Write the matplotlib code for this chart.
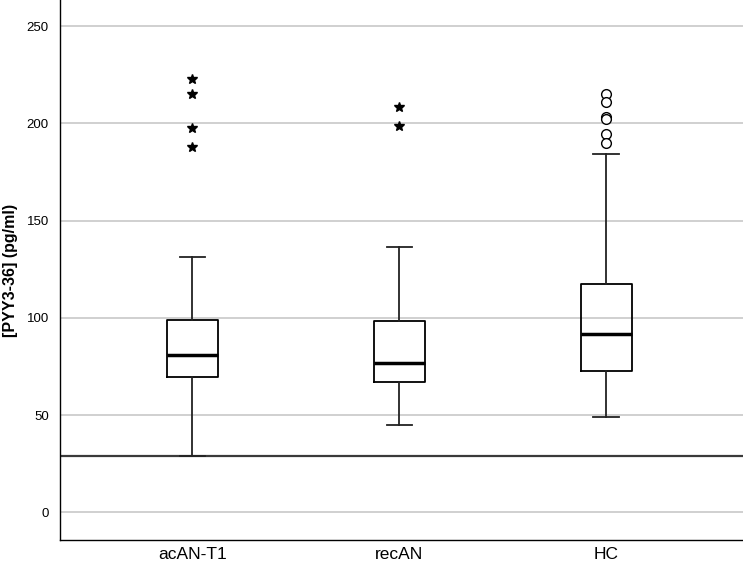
import matplotlib
matplotlib.use("Agg")
import matplotlib.pyplot as plt

# Groups and box statistics (pg/ml)
groups = ["acAN-T1", "recAN", "HC"]
whisker_low = [29, 44.7, 48.8]
q1 = [69.6, 66.8, 72.8]
median = [80.9, 76.9, 91.7]
q3 = [98.7, 98.2, 117.5]
whisker_high = [131.1, 136.7, 184.2]

# extreme values (stars) and outliers (open circles)
extremes = [[222.8, 215.1, 197.6, 187.8], [208.7, 198.8], []]
outliers = [[], [], [215.4, 211.2, 203.4, 202.4, 194.8, 190.0]]

ref_line = 29

plt.rcParams["font.family"] = ["Liberation Sans", "DejaVu Sans"]

fig = plt.figure(figsize=(7.43, 5.66), dpi=100)
ax = fig.add_axes([0.0808, 0.0459, 0.9192, 0.954])

stats = []
for i, g in enumerate(groups):
    stats.append({"label": g, "whislo": whisker_low[i], "q1": q1[i], "med": median[i],
                  "q3": q3[i], "whishi": whisker_high[i], "fliers": []})

positions = list(range(len(groups)))
ax.bxp(stats, positions=positions, widths=0.25, capwidths=0.125, showfliers=False,
       boxprops=dict(color="black", linewidth=1.3),
       medianprops=dict(color="black", linewidth=2.5),
       whiskerprops=dict(color="#222222", linewidth=1.3),
       capprops=dict(color="#222222", linewidth=1.3),
       zorder=3)

for i in positions:
    if extremes[i]:
        ax.plot([i] * len(extremes[i]), extremes[i], linestyle="none", marker="*",
                markersize=7.5, color="black", zorder=4)
    if outliers[i]:
        ax.plot([i] * len(outliers[i]), outliers[i], linestyle="none", marker="o",
                markersize=7, markerfacecolor="white", markeredgecolor="black",
                markeredgewidth=1.0, zorder=4)

ax.axhline(ref_line, color="#3a3a3a", linewidth=1.6, zorder=2)

ax.set_xlim(-0.64, 2.66)
ax.set_ylim(-14.3, 263.5)
ax.set_yticks([0, 50, 100, 150, 200, 250])
ax.set_xticks(positions)
ax.set_xticklabels(groups, fontsize=12.5)
ax.tick_params(axis="y", length=0, pad=8, labelsize=9.5)
ax.tick_params(axis="x", length=0, pad=5)
ax.yaxis.grid(True, color="#c8c8c8", linewidth=1.2, zorder=0)
ax.set_axisbelow(True)

for s in ["top", "right"]:
    ax.spines[s].set_visible(False)
for s in ["left", "bottom"]:
    ax.spines[s].set_color("black")
    ax.spines[s].set_linewidth(1.0)

ax.set_ylabel("[PYY3-36] (pg/ml)", fontsize=11.5, fontweight="bold")
ax.yaxis.set_label_coords(-0.062, 0.5)

fig.savefig("out.png", dpi=100)
